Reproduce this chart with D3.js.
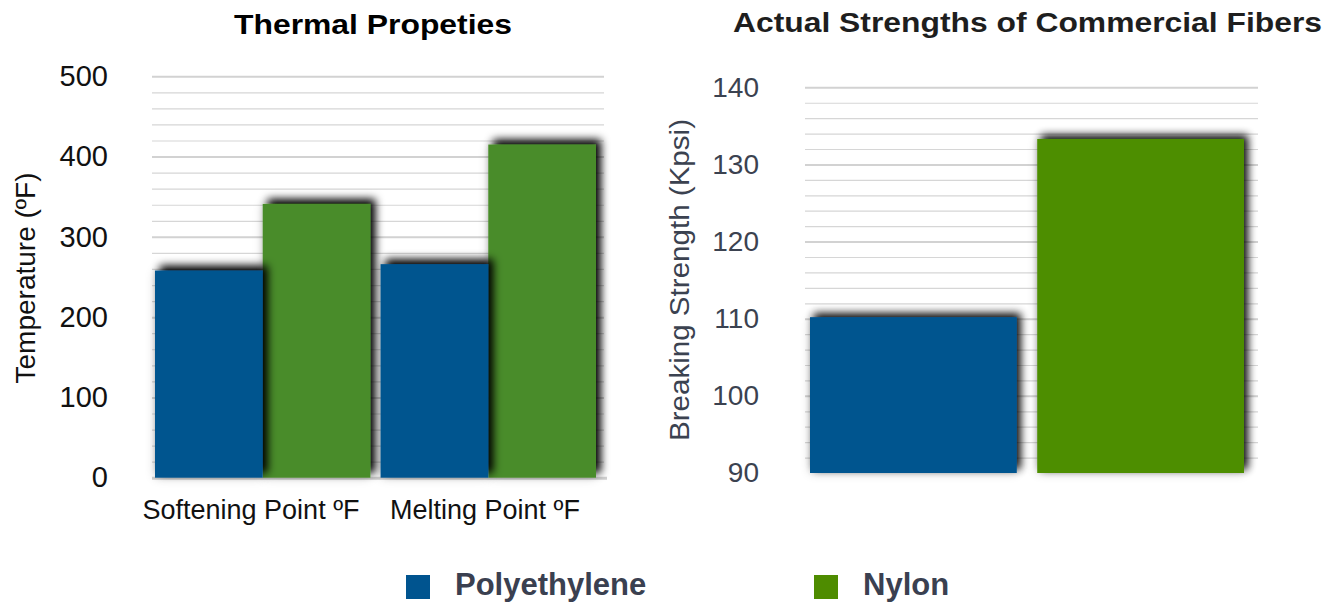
<!DOCTYPE html>
<html>
<head>
<meta charset="utf-8">
<script src="https://cdn.jsdelivr.net/npm/d3@7"></script>
<style>
  html, body { margin: 0; padding: 0; background: #ffffff; }
  svg { display: block; }
  text { font-family: "Liberation Sans", Arial, Helvetica, sans-serif; }
</style>
</head>
<body>
<svg id="chart" width="1343" height="603"></svg>
<script>
// ---- Data -------------------------------------------------------------
const seriesNames = ["Polyethylene", "Nylon"];
const seriesColors = ["#00548f", "#4a8c2a"];
const legendColors = ["#00548f", "#4e8c00"];

// Thermal properties (°F)
const thermalCategories = ["Softening Point ºF", "Melting Point ºF"];
const polyethyleneTemps = [258, 266];
const nylonTemps = [341, 415];
const thermalTicks = [0, 100, 200, 300, 400, 500];

// Breaking strength (Kpsi)
const fiberNames = ["Polyethylene", "Nylon"];
const fiberStrengths = [110.2, 133.3];
const fiberColors = ["#00548f", "#4e8e00"];
const strengthTicks = [90, 100, 110, 120, 130, 140];

const FONT = '"Liberation Sans", Arial, Helvetica, sans-serif';
const svg = d3.select("#chart");

// ---- Bar shadow filters ---------------------------------------------
const defs = svg.append("defs");
function shadowFilter(id, dx, dy, sd, alpha) {
  const f = defs.append("filter").attr("id", id)
    .attr("x", "-25%").attr("y", "-25%").attr("width", "150%").attr("height", "150%");
  f.append("feGaussianBlur").attr("in", "SourceAlpha").attr("stdDeviation", sd).attr("result", "blur");
  f.append("feOffset").attr("in", "blur").attr("dx", dx).attr("dy", dy).attr("result", "off");
  f.append("feComponentTransfer").attr("in", "off").attr("result", "shadow")
    .append("feFuncA").attr("type", "linear").attr("slope", alpha);
  // faint halo all around
  f.append("feGaussianBlur").attr("in", "SourceAlpha").attr("stdDeviation", sd + 1).attr("result", "halo0");
  f.append("feComponentTransfer").attr("in", "halo0").attr("result", "halo")
    .append("feFuncA").attr("type", "linear").attr("slope", 0.18);
  const m = f.append("feMerge");
  m.append("feMergeNode").attr("in", "halo");
  m.append("feMergeNode").attr("in", "shadow");
  m.append("feMergeNode").attr("in", "SourceGraphic");
}
shadowFilter("shadowThermal", 5, -5, 4.5, 1.0);
shadowFilter("shadowStrength", 4, -4, 4.5, 0.95);

// Helper: draw gridlines through an axis (minor + major)
function gridlines(g, scale, minorStep, majorTicks, x0, x1, baseline) {
  const [d0, d1] = scale.domain();
  const minor = d3.range(d0, d1 + minorStep / 2, minorStep).filter(v => !majorTicks.includes(v));
  g.append("g").attr("transform", `translate(${x0},0)`)
    .call(d3.axisLeft(scale).tickValues(minor).tickSize(-(x1 - x0)).tickFormat(""))
    .call(a => a.select(".domain").remove())
    .call(a => a.selectAll("line").attr("stroke", "#d6d6d6").attr("stroke-width", 1.2));
  g.append("g").attr("transform", `translate(${x0},0)`)
    .call(d3.axisLeft(scale).tickValues(majorTicks.filter(v => v !== baseline)).tickSize(-(x1 - x0)).tickFormat(""))
    .call(a => a.select(".domain").remove())
    .call(a => a.selectAll("line").attr("stroke", "#d2d2d2").attr("stroke-width", 2));
}

// ====================== Left chart: Thermal Propeties ==================
{
  const gx0 = 152, gx1 = 604;
  const y = d3.scaleLinear().domain([0, 500]).range([477.7, 76.3]);
  const x0 = d3.scaleBand().domain(thermalCategories).range([155, 596]).paddingInner(0.045);
  const x1 = d3.scaleBand().domain(seriesNames).range([0, x0.bandwidth()]);
  const xLabel = d3.scaleBand().domain(thermalCategories).range([134, 602]);
  const g = svg.append("g");

  gridlines(g, y, 20, thermalTicks, gx0, gx1, 0);

  // baseline
  g.append("g").attr("transform", `translate(${gx0},0)`)
    .call(d3.axisLeft(y).tickValues([0]).tickSize(-(gx1 - gx0 + 3)).tickFormat(""))
    .call(a => a.select(".domain").remove())
    .call(a => a.selectAll("line").attr("stroke", "#d0d0d0").attr("stroke-width", 3));

  // tick labels
  g.append("g").attr("transform", `translate(${gx0},0)`)
    .call(d3.axisLeft(y).tickValues(thermalTicks).tickSize(0).tickPadding(44))
    .call(a => a.select(".domain").remove())
    .call(a => a.selectAll("text").attr("font-family", FONT).attr("font-size", 29).attr("fill", "#111"));

  // bars: Nylon first so the Polyethylene shadow falls over it
  const seriesValues = { "Polyethylene": polyethyleneTemps, "Nylon": nylonTemps };
  ["Nylon", "Polyethylene"].forEach(name => {
    const color = seriesColors[seriesNames.indexOf(name)];
    g.append("g").selectAll("rect")
      .data(thermalCategories.map((c, i) => ({ c, v: seriesValues[name][i] })))
      .join("rect")
      .attr("x", d => x0(d.c) + x1(name))
      .attr("width", x1.bandwidth())
      .attr("y", d => y(d.v))
      .attr("height", d => y(0) - y(d.v))
      .attr("fill", color)
      .attr("filter", "url(#shadowThermal)");
  });

  // category labels
  g.append("g").attr("transform", "translate(0,478)")
    .call(d3.axisBottom(xLabel).tickSize(0).tickPadding(22))
    .call(a => a.select(".domain").remove())
    .call(a => a.selectAll("text").attr("font-family", FONT).attr("font-size", 27).attr("fill", "#111"));

  // title
  svg.append("text").attr("x", 373).attr("y", 34).attr("text-anchor", "middle")
    .attr("font-size", 28).attr("font-weight", "bold").attr("fill", "#000")
    .attr("textLength", 278).attr("lengthAdjust", "spacingAndGlyphs")
    .text("Thermal Propeties");

  // y axis title
  svg.append("text").attr("transform", "translate(35,278) rotate(-90)")
    .attr("text-anchor", "middle").attr("font-size", 28).attr("fill", "#111")
    .text("Temperature (ºF)");
}

// ============ Right chart: Actual Strengths of Commercial Fibers =======
{
  const gx0 = 805, gx1 = 1258;
  const y = d3.scaleLinear().domain([90, 140]).range([473, 87.3]);
  const x = d3.scaleBand().domain(fiberNames).range([810, 1244]).paddingInner(0.09);
  const g = svg.append("g");

  gridlines(g, y, 2, strengthTicks, gx0, gx1, 90);

  g.append("g").attr("transform", `translate(${gx0},0)`)
    .call(d3.axisLeft(y).tickValues(strengthTicks).tickSize(0).tickPadding(46))
    .call(a => a.select(".domain").remove())
    .call(a => a.selectAll("text").attr("font-family", FONT).attr("font-size", 28).attr("fill", "#3b4250"));

  g.append("g").selectAll("rect")
    .data(fiberNames.map((n, i) => ({ n, v: fiberStrengths[i], c: fiberColors[i] })))
    .join("rect")
    .attr("x", d => x(d.n))
    .attr("width", x.bandwidth())
    .attr("y", d => y(d.v))
    .attr("height", d => y(90) - y(d.v))
    .attr("fill", d => d.c)
    .attr("filter", "url(#shadowStrength)");

  svg.append("text").attr("x", 1027.5).attr("y", 32).attr("text-anchor", "middle")
    .attr("font-size", 27).attr("font-weight", "bold").attr("fill", "#1e1e1e")
    .attr("textLength", 589).attr("lengthAdjust", "spacingAndGlyphs")
    .text("Actual Strengths of Commercial Fibers");

  svg.append("text").attr("transform", "translate(689,280) rotate(-90)")
    .attr("text-anchor", "middle").attr("font-size", 27).attr("fill", "#3b4250")
    .attr("textLength", 322).attr("lengthAdjust", "spacingAndGlyphs")
    .text("Breaking Strength (Kpsi)");
}

// ================================ Legend ================================
{
  const legendX = [406, 814];
  const lg = svg.append("g").selectAll("g")
    .data(seriesNames.map((n, i) => ({ n, c: legendColors[i], x: legendX[i] })))
    .join("g")
    .attr("transform", d => `translate(${d.x},575)`);
  lg.append("rect").attr("width", 24).attr("height", 24).attr("fill", d => d.c);
  lg.append("text").attr("x", 49).attr("y", 19.5)
    .attr("font-size", 31).attr("font-weight", "bold").attr("fill", "#3a4050")
    .text(d => d.n);
}
</script>
</body>
</html>
